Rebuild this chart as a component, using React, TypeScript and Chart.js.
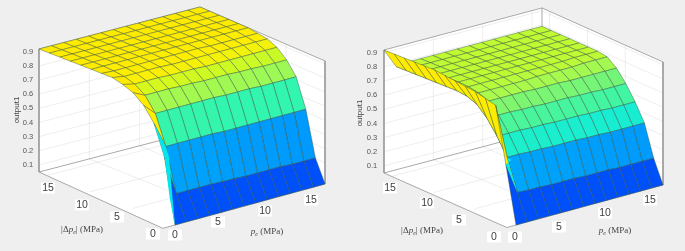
import React, { useEffect, useRef } from "react";
import { Chart, registerables } from "chart.js";

Chart.register(...registerables);

const pressureTicks = [0, 5, 10, 15];
const outputTicks = [0.1, 0.2, 0.3, 0.4, 0.5, 0.6, 0.7, 0.8, 0.9];
const pe = [0, 1.23, 2.46, 3.69, 4.92, 6.15, 7.38, 8.62, 9.85, 11.08, 12.31, 13.54, 14.77, 16];
const dp = [0, 1.23, 2.46, 3.69, 4.92, 6.15, 7.38, 8.62, 9.85, 11.08, 12.31, 13.54, 14.77, 16];

// rows follow dp, columns follow pe
const outputLeft = [
  [.05, .05, .05, .05, .05, .05, .05, .05, .05, .05, .05, .05, .05, .05],
  [.50, .22, .22, .22, .22, .215, .215, .21, .21, .21, .21, .205, .205, .205],
  [.71, .525, .525, .525, .525, .525, .52, .52, .52, .52, .52, .52, .52, .52],
  [.81, .73, .73, .73, .73, .73, .73, .725, .725, .725, .72, .72, .72, .72],
  [.87, .83, .83, .83, .825, .825, .82, .82, .82, .815, .815, .81, .81, .81],
  [.90, .88, .88, .88, .875, .875, .875, .87, .87, .87, .87, .87, .87, .87],
  [.92, .905, .905, .905, .905, .90, .90, .90, .90, .90, .90, .90, .90, .90],
  [.92, .915, .915, .915, .915, .915, .915, .915, .915, .91, .91, .91, .91, .91],
  [.92, .92, .92, .92, .92, .92, .92, .92, .92, .92, .92, .92, .92, .92],
  [.92, .92, .92, .92, .92, .92, .92, .92, .92, .92, .92, .92, .92, .92],
  [.92, .92, .92, .92, .92, .92, .92, .92, .92, .92, .92, .92, .92, .92],
  [.92, .92, .92, .92, .92, .92, .92, .92, .92, .92, .92, .92, .92, .92],
  [.92, .92, .92, .92, .92, .92, .92, .92, .92, .92, .92, .92, .92, .92],
  [.92, .92, .92, .92, .92, .92, .92, .92, .92, .92, .92, .92, .92, .92],
];
const outputRight = [
  [.05, .05, .05, .05, .05, .05, .05, .05, .05, .05, .05, .05, .05, .05],
  [.45, .23, .225, .225, .22, .22, .22, .215, .215, .215, .21, .21, .21, .21],
  [.84, .45, .45, .445, .445, .44, .44, .44, .435, .435, .43, .43, .43, .43],
  [.86, .57, .57, .57, .565, .565, .56, .56, .56, .555, .555, .55, .55, .55],
  [.88, .67, .67, .67, .665, .665, .66, .66, .66, .655, .655, .65, .65, .65],
  [.89, .74, .74, .74, .74, .74, .735, .735, .735, .73, .73, .73, .73, .73],
  [.90, .77, .77, .77, .77, .77, .77, .775, .775, .775, .775, .78, .78, .78],
  [.91, .78, .785, .785, .785, .785, .785, .785, .785, .785, .785, .79, .79, .79],
  [.92, .78, .79, .79, .79, .79, .79, .79, .79, .79, .79, .79, .79, .79],
  [.92, .78, .79, .79, .79, .79, .79, .79, .79, .79, .79, .79, .79, .79],
  [.92, .78, .79, .79, .79, .79, .79, .79, .79, .79, .79, .79, .79, .79],
  [.92, .78, .79, .79, .79, .79, .79, .79, .79, .79, .79, .79, .79, .79],
  [.92, .78, .79, .79, .79, .79, .79, .79, .79, .79, .79, .79, .79, .79],
  [.92, .78, .79, .79, .79, .79, .79, .79, .79, .79, .79, .79, .79, .79],
];
// colour value of the first column's cells, nearest row first
const edgeToneLeft = [.05, .34, .90, .92, .92, .92, .92, .92, .92, .92, .92, .92, .92];
const edgeToneRight = [.05, .92, .92, .92, .92, .92, .92, .92, .92, .92, .92, .92, .92];
// small folded faces at the foot of the first column [pe, dp, output]
const foldLeft = [[0, 0, .05], [0, .6, .22], [0, 1.23, .5], [0, 2.46, .71], [1.23, 2.46, .525], [.45, 1.23, .5]];
const foldRight = [[0, 1.23, .45], [1.23, 1.23, .23], [1.23, 2.46, .45], [.6, 1.23, .47]];

const Z_FLOOR = 0.05;
const Z_TOP = 0.92;
const ZSCALE = 141.4;
type P = number[];
type Panel = {
  f0: P; f1: P; f2: P; f3: P; grid: number[][]; edge: number[]; fold: number[][]; foldTone: number;
  cornerPe: number; zLabelX: number; titleAt: P; dpTicks: P[]; peTicks: P[]; dpLabel: P; peLabel: P;
};
const panels: Panel[] = [
  {
    f0: [175, 225], f1: [325, 184], f2: [200, 130], f3: [39, 172], grid: outputLeft, edge: edgeToneLeft,
    fold: foldLeft, foldTone: .36, cornerPe: -1.3, zLabelX: 28, titleAt: [17, 110],
    dpTicks: [[153, 234], [117, 217], [82, 205], [48, 188]], peTicks: [[175, 235], [218, 222], [265, 211], [311, 200]],
    dpLabel: [82, 229], peLabel: [267, 231],
  },
  {
    f0: [516, 225], f1: [663, 185], f2: [542, 131], f3: [384, 173], grid: outputRight, edge: edgeToneRight,
    fold: foldRight, foldTone: .37, cornerPe: -1, zLabelX: 372, titleAt: [360, 113],
    dpTicks: [[494, 237], [459, 220], [427, 203], [390, 188]], peTicks: [[515, 237], [559, 227], [605, 213], [650, 200]],
    dpLabel: [422, 230], peLabel: [615, 230],
  },
];

const toneStops: number[][] = [
  [.05, 0, 80, 250], [.2, 0, 150, 252], [.35, 0, 230, 240], [.52, 50, 245, 175],
  [.65, 115, 245, 120], [.75, 175, 250, 70], [.82, 205, 250, 35], [.88, 250, 240, 5], [.92, 255, 235, 0],
];
function tone(z: number) {
  for (let i = 1; i < toneStops.length; i++) {
    if (z <= toneStops[i][0]) {
      const a = toneStops[i - 1], b = toneStops[i];
      const t = Math.max(0, (z - a[0]) / (b[0] - a[0]));
      const c = [1, 2, 3].map((k) => Math.round(a[k] + (b[k] - a[k]) * t));
      return `rgb(${c[0]},${c[1]},${c[2]})`;
    }
  }
  return "rgb(255,235,0)";
}

function project(p: Panel, pv: number, dv: number, z: number) {
  const u = pv / 16, v = dv / 16;
  const near = [p.f0[0] + (p.f1[0] - p.f0[0]) * u, p.f0[1] + (p.f1[1] - p.f0[1]) * u];
  const far = [p.f3[0] + (p.f2[0] - p.f3[0]) * u, p.f3[1] + (p.f2[1] - p.f3[1]) * u];
  return { x: near[0] + (far[0] - near[0]) * v, y: near[1] + (far[1] - near[1]) * v - (z - Z_FLOOR) * ZSCALE };
}

function shape(data: { x: number; y: number }[], fillColor: string, line: string, width: number) {
  return {
    data: [...data, data[0]], showLine: true, fill: "shape", backgroundColor: fillColor,
    borderColor: line, borderWidth: width, pointRadius: 0, tension: 0,
  };
}
function stroke(data: { x: number; y: number }[], line: string, width: number) {
  return { data, showLine: true, fill: false, borderColor: line, borderWidth: width, pointRadius: 0, tension: 0 };
}

function panelDatasets(p: Panel) {
  const out: any[] = [];
  const pr = (a: number, b: number, c: number) => project(p, a, b, c);
  const white = "#ffffff";
  out.push(shape([pr(0, 16, Z_FLOOR), pr(16, 16, Z_FLOOR), pr(16, 16, Z_TOP), pr(0, 16, Z_TOP)], white, white, 0));
  out.push(shape([pr(16, 0, Z_FLOOR), pr(16, 16, Z_FLOOR), pr(16, 16, Z_TOP), pr(16, 0, Z_TOP)], white, white, 0));
  out.push(shape([pr(p.cornerPe, 0, Z_FLOOR), pr(16, 0, Z_FLOOR), pr(16, 16, Z_FLOOR), pr(0, 16, Z_FLOOR)], white, white, 0));
  const gridColor = "rgba(205,205,205,0.5)";
  for (const t of outputTicks) {
    out.push(stroke([pr(0, 16, t), pr(16, 16, t), pr(16, 0, t)], gridColor, 0.7));
  }
  for (const t of pressureTicks) {
    if (t > 0) out.push(stroke([pr(t, 0, Z_FLOOR), pr(t, 16, Z_FLOOR), pr(t, 16, Z_TOP)], gridColor, 0.7));
    if (t > 0) out.push(stroke([pr(0, t, Z_FLOOR), pr(16, t, Z_FLOOR), pr(16, t, Z_TOP)], gridColor, 0.7));
  }
  const frame = "rgba(150,150,150,0.9)";
  out.push(stroke([pr(0, 16, Z_FLOOR), pr(16, 16, Z_FLOOR), pr(16, 0, Z_FLOOR)], frame, 0.9));
  out.push(stroke([pr(0, 16, Z_TOP), pr(16, 16, Z_TOP), pr(16, 0, Z_TOP), pr(16, 0, Z_FLOOR)], frame, 0.9));
  out.push(stroke([pr(0, 16, Z_TOP), pr(0, 16, Z_FLOOR), pr(p.cornerPe, 0, Z_FLOOR), pr(16, 0, Z_FLOOR)], frame, 0.9));
  out.push(stroke([pr(16, 16, Z_FLOOR), pr(16, 16, Z_TOP)], frame, 0.9));

  const edgeLine = "rgba(45,80,60,0.6)";
  for (let r = dp.length - 2; r >= 0; r--) {
    for (let c = pe.length - 2; c >= 0; c--) {
      const g = p.grid;
      const col = c === 0 ? tone(p.edge[r]) : tone(g[r][c]);
      out.push(shape([
        pr(pe[c], dp[r], g[r][c]), pr(pe[c + 1], dp[r], g[r][c + 1]),
        pr(pe[c + 1], dp[r + 1], g[r + 1][c + 1]), pr(pe[c], dp[r + 1], g[r + 1][c]),
      ], col, edgeLine, 0.7));
    }
  }
  out.push(shape(p.fold.map((f) => pr(f[0], f[1], f[2])), tone(p.foldTone), tone(p.foldTone), 0));
  return out;
}

function mixedLabel(ctx: CanvasRenderingContext2D, cx: number, cy: number, opening: string, closing: string) {
  const sans = "9px 'Liberation Serif'";
  const ital = "italic 9px 'Liberation Serif'";
  const sub = "italic 6px 'Liberation Serif'";
  ctx.textAlign = "left";
  ctx.textBaseline = "alphabetic";
  const parts: [string, string, number][] = [[opening, sans, 0], ["p", ital, 0], ["e", sub, 2], [closing, sans, 0]];
  let w = 0;
  for (const q of parts) { ctx.font = q[1]; w += ctx.measureText(q[0]).width; }
  let x = cx - w / 2;
  for (const q of parts) {
    ctx.font = q[1];
    ctx.fillText(q[0], x, cy + 3 + q[2]);
    x += ctx.measureText(q[0]).width;
  }
}

const textPlugin = {
  id: "panelText",
  afterDatasetsDraw(chart: any) {
    const ctx: CanvasRenderingContext2D = chart.ctx;
    ctx.save();
    for (const p of panels) {
      ctx.font = "7.5px 'Liberation Sans'";
      ctx.fillStyle = "#555555";
      ctx.textAlign = "center";
      ctx.textBaseline = "middle";
      const edge = chart.scales.y;
      for (const t of outputTicks) {
        const q = project(p, 0, 16, t);
        ctx.fillText(String(t), p.zLabelX, edge.getPixelForValue(q.y));
      }
      ctx.save();
      ctx.translate(p.titleAt[0], p.titleAt[1]);
      ctx.rotate(-Math.PI / 2);
      ctx.font = "8px 'Liberation Sans'";
      ctx.fillStyle = "#444";
      ctx.fillText("output1", 0, 0);
      ctx.restore();
      const drawTick = (label: number, at: P) => {
        ctx.font = "10.5px 'Liberation Sans'";
        ctx.textAlign = "center";
        ctx.textBaseline = "middle";
        const w = Math.max(ctx.measureText(String(label)).width + 2, 14);
        ctx.fillStyle = "#ffffff";
        ctx.fillRect(at[0] - w / 2, at[1] - 5.5, w, 11);
        ctx.fillStyle = "#404040";
        ctx.fillText(String(label), at[0], at[1]);
      };
      pressureTicks.forEach((t, i) => { drawTick(t, p.dpTicks[i]); drawTick(t, p.peTicks[i]); });
      ctx.fillStyle = "#444444";
      mixedLabel(ctx, p.dpLabel[0], p.dpLabel[1], "|Δ", "| (MPa)");
      mixedLabel(ctx, p.peLabel[0], p.peLabel[1], "", " (MPa)");
      ctx.textAlign = "center";
      ctx.textBaseline = "middle";
    }
    ctx.restore();
  },
};

export default function App() {
  const ref = useRef<HTMLCanvasElement>(null);
  useEffect(() => {
    document.body.style.margin = "0";
    const front = panels.flatMap(panelDatasets).reverse();
    const chart = new Chart(ref.current as HTMLCanvasElement, {
      type: "scatter",
      data: { datasets: front as any },
      options: {
        animation: false,
        responsive: false,
        events: [],
        layout: { padding: 0 },
        scales: {
          x: { type: "linear", min: 0, max: 685, display: false },
          y: { type: "linear", min: 0, max: 251, reverse: true, display: false },
        },
        plugins: { legend: { display: false }, tooltip: { enabled: false } },
      },
      plugins: [textPlugin as any],
    });
    return () => chart.destroy();
  }, []);
  return (
    <canvas
      ref={ref}
      width={685}
      height={251}
      style={{ position: "fixed", left: 0, top: 0, width: 685, height: 251, background: "#efefef", filter: "blur(0.45px)" }}
    />
  );
}
